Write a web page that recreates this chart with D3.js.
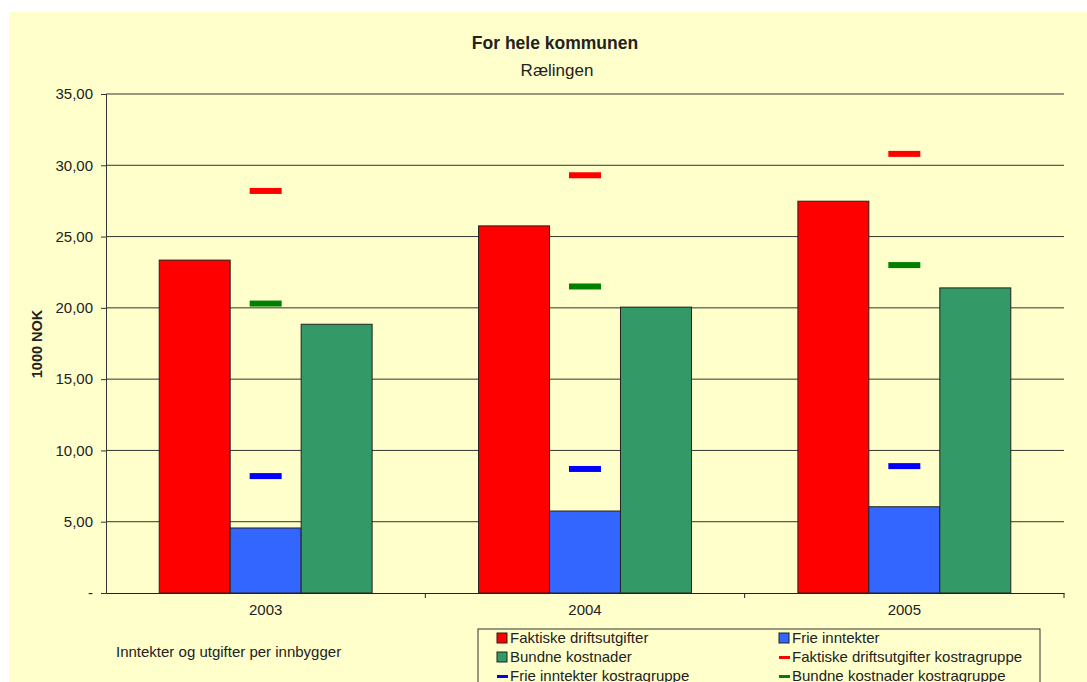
<!DOCTYPE html>
<html>
<head>
<meta charset="utf-8">
<script src="https://cdn.jsdelivr.net/npm/d3@7"></script>
<style>
  body { margin: 0; background: #fff; }
  text { font-family: Arial, "Liberation Sans", sans-serif; fill: #222; }
</style>
</head>
<body>
<div id="chart"></div>
<script>
// Data
var years = ["2003", "2004", "2005"];
var barSeries = ["Faktiske driftsutgifter", "Frie inntekter", "Bundne kostnader"];
var faktiske = [23.35, 25.75, 27.48];
var frie = [4.56, 5.75, 6.05];
var bundne = [18.85, 20.05, 21.40];
var faktiskeKostra = [28.2, 29.3, 30.8];
var frieKostra = [8.2, 8.7, 8.9];
var bundneKostra = [20.3, 21.5, 23.0];
var yTicks = [0, 5, 10, 15, 20, 25, 30, 35];

var svgWidth = 1087, svgHeight = 682;
var margin = { top: 94, right: 23, bottom: 89, left: 106 };
var chartWidth = svgWidth - margin.left - margin.right;
var chartHeight = svgHeight - margin.top - margin.bottom;

var svg = d3.select("#chart").append("svg")
  .attr("width", svgWidth)
  .attr("height", svgHeight);

// yellow page background
svg.append("rect")
  .attr("x", 9).attr("y", 12)
  .attr("width", svgWidth - 9).attr("height", svgHeight - 12)
  .attr("fill", "#ffffcc");

svg.append("text")
  .attr("x", 555).attr("y", 49)
  .attr("text-anchor", "middle")
  .style("font-size", "17.5px").style("font-weight", "bold")
  .text("For hele kommunen");

svg.append("text")
  .attr("x", 557).attr("y", 76)
  .attr("text-anchor", "middle")
  .style("font-size", "17px")
  .text("Rælingen");

var chartGroup = svg.append("g")
  .attr("transform", `translate(${margin.left}, ${margin.top})`);

var xScale = d3.scaleBand().domain(years).range([0, chartWidth]);
var xInner = d3.scaleBand().domain(barSeries)
  .range([0, xScale.bandwidth()]).paddingOuter(0.75);
var yScale = d3.scaleLinear().domain([0, 35]).range([chartHeight, 0]);

// gridlines
chartGroup.append("g").selectAll("line")
  .data(yTicks.slice(1))
  .enter().append("line")
  .attr("x1", 0).attr("x2", chartWidth)
  .attr("y1", d => yScale(d)).attr("y2", d => yScale(d))
  .attr("stroke", "#333").attr("stroke-width", 1);

// y axis
var leftAxis = d3.axisLeft(yScale)
  .tickValues(yTicks)
  .tickSize(5)
  .tickPadding(8)
  .tickFormat(d => d === 0 ? "-" : d3.format(".2f")(d).replace(".", ","));
var yAxisG = chartGroup.append("g").call(leftAxis);
yAxisG.select(".domain").attr("stroke", "#333");
yAxisG.selectAll(".tick line").attr("stroke", "#333");
yAxisG.selectAll("text").style("font-size", "15px").attr("fill", "#222");

// bars
var seriesData = [faktiske, frie, bundne];
var barColors = ["#ff0000", "#3366ff", "#339966"];
years.forEach(function(year, i) {
  var g = chartGroup.append("g")
    .attr("transform", `translate(${xScale(year)}, 0)`);
  g.selectAll("rect")
    .data(barSeries.map((s, j) => ({ s: s, v: seriesData[j][i], c: barColors[j] })))
    .enter().append("rect")
    .attr("x", d => xInner(d.s))
    .attr("y", d => yScale(d.v))
    .attr("width", xInner.bandwidth())
    .attr("height", d => chartHeight - yScale(d.v))
    .attr("fill", d => d.c)
    .attr("stroke", "#222").attr("stroke-width", 1);
});

// kostragruppe markers
var markerSeries = [
  { vals: faktiskeKostra, color: "#ff0000" },
  { vals: frieKostra, color: "#0000ff" },
  { vals: bundneKostra, color: "#008000" }
];
var markW = 32, markH = 6;
markerSeries.forEach(function(m) {
  chartGroup.append("g").selectAll("rect")
    .data(years.map((y, i) => ({ y: y, v: m.vals[i] })))
    .enter().append("rect")
    .attr("x", d => xScale(d.y) + xScale.bandwidth() / 2 - markW / 2)
    .attr("y", d => yScale(d.v) - markH / 2)
    .attr("width", markW).attr("height", markH)
    .attr("fill", m.color);
});

// x axis
var bottomAxis = d3.axisBottom(xScale).tickSize(0).tickPadding(11);
var xAxisG = chartGroup.append("g")
  .attr("transform", `translate(0, ${chartHeight})`)
  .call(bottomAxis);
xAxisG.select(".domain").attr("stroke", "#222");
xAxisG.selectAll("text").style("font-size", "15px").attr("fill", "#222");
// category separators
chartGroup.append("g").selectAll("line")
  .data(years.slice(1).concat(["end"]))
  .enter().append("line")
  .attr("x1", d => d === "end" ? chartWidth : xScale(d))
  .attr("x2", d => d === "end" ? chartWidth : xScale(d))
  .attr("y1", chartHeight).attr("y2", chartHeight + 5)
  .attr("stroke", "#222");

// y label
svg.append("text")
  .attr("transform", "rotate(-90)")
  .attr("x", -344).attr("y", 42)
  .attr("text-anchor", "middle")
  .style("font-size", "14.5px").style("font-weight", "bold")
  .text("1000 NOK");

svg.append("text")
  .attr("x", 116).attr("y", 657)
  .style("font-size", "15px")
  .text("Inntekter og utgifter per innbygger");

// legend
var legendItems = [
  { label: "Faktiske driftsutgifter", type: "box", color: "#ff0000" },
  { label: "Frie inntekter", type: "box", color: "#3366ff" },
  { label: "Bundne kostnader", type: "box", color: "#339966" },
  { label: "Faktiske driftsutgifter kostragruppe", type: "line", color: "#ff0000" },
  { label: "Frie inntekter kostragruppe", type: "line", color: "#0000ff" },
  { label: "Bundne kostnader kostragruppe", type: "line", color: "#008000" }
];
svg.append("rect")
  .attr("x", 478).attr("y", 629)
  .attr("width", 562).attr("height", 70)
  .attr("fill", "#ffffcc").attr("stroke", "#333");

var legend = svg.append("g");
legendItems.forEach(function(item, i) {
  var lx = i % 2 === 0 ? 497 : 779;
  var ly = 638 + Math.floor(i / 2) * 19;
  if (item.type === "box") {
    legend.append("rect")
      .attr("x", lx).attr("y", ly - 5)
      .attr("width", 10).attr("height", 10)
      .attr("fill", item.color).attr("stroke", "#222");
  } else {
    legend.append("rect")
      .attr("x", lx).attr("y", ly - 1)
      .attr("width", 11).attr("height", 3)
      .attr("fill", item.color);
  }
  legend.append("text")
    .attr("x", lx + 13).attr("y", ly + 5)
    .style("font-size", "15px")
    .text(item.label);
});
</script>
</body>
</html>
